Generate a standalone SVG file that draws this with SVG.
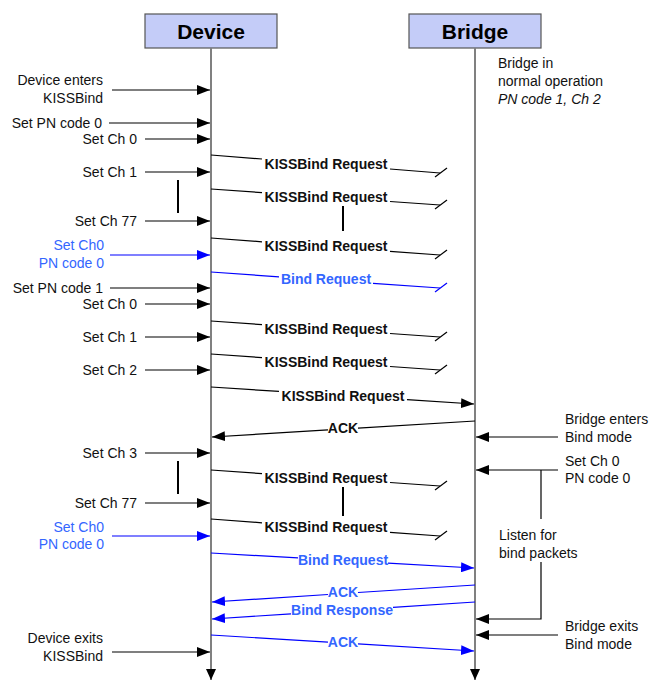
<svg xmlns="http://www.w3.org/2000/svg" width="653" height="681" viewBox="0 0 653 681">
<style>
.t{font-family:"Liberation Sans",Arial,sans-serif;font-size:14px;fill:#111}
.b{font-weight:bold}
.blue{fill:#3366FF}
.e{text-anchor:end}
.m{text-anchor:middle}
.hd{font-family:"Liberation Sans",Arial,sans-serif;font-size:21px;font-weight:bold;text-anchor:middle;fill:#000}
.box{fill:#C4CCF8;stroke:#555;stroke-width:1.2}
.life{stroke:#808080;stroke-width:2;fill:none}
.k{stroke:#000;stroke-width:1.2;fill:none}
.bl{stroke:#0000FF;stroke-width:1.2;fill:none}
.ka{stroke:#000;stroke-width:1.2;fill:none;marker-end:url(#ah)}
.ba{stroke:#0000FF;stroke-width:1.2;fill:none;marker-end:url(#ahb)}
.bar{stroke:#000;stroke-width:2}
</style>
<defs>
<marker id="ah" markerUnits="userSpaceOnUse" markerWidth="14" markerHeight="10" refX="13" refY="5" orient="auto"><path d="M0,0 L13,5 L0,10 Z" fill="#000"/></marker>
<marker id="ahb" markerUnits="userSpaceOnUse" markerWidth="14" markerHeight="10" refX="13" refY="5" orient="auto"><path d="M0,0 L13,5 L0,10 Z" fill="#0000FF"/></marker>
<marker id="ahl" markerUnits="userSpaceOnUse" markerWidth="12" markerHeight="10" refX="11" refY="5" orient="auto"><path d="M0,0 L11,5 L0,10 Z" fill="#000"/></marker>
</defs>

<g id="device">
<rect class="box" x="145" y="14" width="132" height="34"/>
<text class="hd" x="211" y="38.5">Device</text>
</g>
<g id="bridge">
<rect class="box" x="409" y="14" width="132" height="34"/>
<text class="hd" x="475" y="38.5">Bridge</text>
</g>

<g id="lifelines">
<line class="life" x1="211" y1="48" x2="211" y2="680" style="marker-end:url(#ahl)"/>
<line class="life" x1="475" y1="48" x2="475" y2="680" style="marker-end:url(#ahl)"/>
</g>

<g id="device-notes">
<text class="t e" x="103" y="85">Device enters</text>
<text class="t e" x="103" y="103">KISSBind</text>
<text class="t e" x="102" y="128">Set PN code 0</text>
<text class="t e" x="137" y="144">Set Ch 0</text>
<text class="t e" x="137" y="177">Set Ch 1</text>
<text class="t e" x="137" y="226">Set Ch 77</text>
<text class="t e blue" x="104" y="250">Set Ch0</text>
<text class="t e blue" x="104" y="268">PN code 0</text>
<text class="t e" x="103" y="293">Set PN code 1</text>
<text class="t e" x="137" y="309">Set Ch 0</text>
<text class="t e" x="137" y="342">Set Ch 1</text>
<text class="t e" x="137" y="375">Set Ch 2</text>
<text class="t e" x="137" y="458">Set Ch 3</text>
<text class="t e" x="137" y="508">Set Ch 77</text>
<text class="t e blue" x="104" y="532">Set Ch0</text>
<text class="t e blue" x="104" y="549">PN code 0</text>
<text class="t e" x="103" y="643">Device exits</text>
<text class="t e" x="103" y="661">KISSBind</text>
</g>

<g id="bridge-notes">
<text class="t" x="498" y="68">Bridge in</text>
<text class="t" x="498" y="86">normal operation</text>
<text class="t" x="498" y="104" font-style="italic">PN code 1, Ch 2</text>
<text class="t" x="565" y="424">Bridge enters</text>
<text class="t" x="565" y="442">Bind mode</text>
<text class="t" x="565" y="466">Set Ch 0</text>
<text class="t" x="565" y="483">PN code 0</text>
<text class="t" x="499" y="540">Listen for</text>
<text class="t" x="499" y="558">bind packets</text>
<text class="t" x="565" y="631">Bridge exits</text>
<text class="t" x="565" y="649">Bind mode</text>
</g>

<g id="connectors">
<!-- device side arrows -->
<line class="ka" x1="112" y1="90" x2="210" y2="90"/>
<line class="ka" x1="109" y1="123" x2="210" y2="123"/>
<line class="ka" x1="145" y1="139" x2="210" y2="139"/>
<line class="ka" x1="145" y1="172" x2="210" y2="172"/>
<line class="bar" x1="178" y1="180" x2="178" y2="213"/>
<line class="ka" x1="145" y1="221" x2="210" y2="221"/>
<line class="ba" x1="110" y1="255" x2="210" y2="255"/>
<line class="ka" x1="110" y1="288" x2="210" y2="288"/>
<line class="ka" x1="145" y1="304" x2="210" y2="304"/>
<line class="ka" x1="145" y1="337" x2="210" y2="337"/>
<line class="ka" x1="145" y1="370" x2="210" y2="370"/>
<line class="ka" x1="145" y1="453" x2="210" y2="453"/>
<line class="bar" x1="178" y1="461" x2="178" y2="494"/>
<line class="ka" x1="145" y1="503" x2="210" y2="503"/>
<line class="ba" x1="112" y1="536" x2="210" y2="536"/>
<line class="ka" x1="112" y1="652" x2="210" y2="652"/>

<!-- bridge side arrows -->
<line class="ka" x1="558" y1="437" x2="476" y2="437"/>
<line class="ka" x1="558" y1="470" x2="476" y2="470"/>
<polyline class="k" points="541,470 541,519"/>
<polyline class="ka" points="541,562 541,619 476,619"/>
<line class="ka" x1="558" y1="635" x2="476" y2="635"/>

<!-- messages -->
<polyline class="k" points="211,155 262,159"/>
<polyline class="k" points="390,169 440,173"/>
<line class="k" x1="435" y1="177" x2="447" y2="168"/>
<text class="t b m" x="326" y="169">KISSBind Request</text>

<polyline class="k" points="211,189 262,192.6"/>
<polyline class="k" points="390,201.5 440,205"/>
<line class="k" x1="435" y1="209" x2="447" y2="200"/>
<text class="t b m" x="326" y="202">KISSBind Request</text>
<line class="bar" x1="343" y1="206" x2="343" y2="231"/>

<polyline class="k" points="211,238 262,241.8"/>
<polyline class="k" points="390,251.3 440,255"/>
<line class="k" x1="435" y1="259" x2="447" y2="250"/>
<text class="t b m" x="326" y="251">KISSBind Request</text>

<polyline class="bl" points="211,272 279,276.8"/>
<polyline class="bl" points="373,283.3 440,288"/>
<line class="bl" x1="435" y1="292" x2="447" y2="283"/>
<text class="t b m blue" x="326" y="284">Bind Request</text>

<polyline class="k" points="211,321 262,324.6"/>
<polyline class="k" points="390,333.5 440,337"/>
<line class="k" x1="435" y1="341" x2="447" y2="332"/>
<text class="t b m" x="326" y="334">KISSBind Request</text>

<polyline class="k" points="211,354 262,357.6"/>
<polyline class="k" points="390,366.5 440,370"/>
<line class="k" x1="435" y1="374" x2="447" y2="365"/>
<text class="t b m" x="326" y="367">KISSBind Request</text>

<polyline class="k" points="211,387 279,391.4"/>
<polyline class="ka" points="407,399.6 474,404"/>
<text class="t b m" x="343" y="401">KISSBind Request</text>

<polyline class="k" points="475,421 358,428.1"/>
<polyline class="ka" points="328,429.9 212,437"/>
<text class="t b m" x="343" y="433">ACK</text>

<polyline class="k" points="211,470 262,473.6"/>
<polyline class="k" points="390,482.5 440,486"/>
<line class="k" x1="435" y1="490" x2="447" y2="481"/>
<text class="t b m" x="326" y="483">KISSBind Request</text>
<line class="bar" x1="343" y1="487" x2="343" y2="516"/>

<polyline class="k" points="211,519 262,522.8"/>
<polyline class="k" points="390,532.3 440,536"/>
<line class="k" x1="435" y1="540" x2="447" y2="531"/>
<text class="t b m" x="326" y="532">KISSBind Request</text>

<polyline class="bl" points="211,553 298,557.9"/>
<polyline class="ba" points="388,563.1 474,568"/>
<text class="t b m blue" x="343" y="565">Bind Request</text>

<polyline class="bl" points="475,585 358,592.5"/>
<polyline class="ba" points="328,594.5 212,602"/>
<text class="t b m blue" x="343" y="597">ACK</text>

<polyline class="bl" points="475,602 393,607.3"/>
<polyline class="ba" points="291,613.8 212,619"/>
<text class="t b m blue" x="342" y="615">Bind Response</text>

<polyline class="bl" points="211,635 328,642.1"/>
<polyline class="ba" points="358,643.9 474,651"/>
<text class="t b m blue" x="343" y="647">ACK</text>
</g>
</svg>
